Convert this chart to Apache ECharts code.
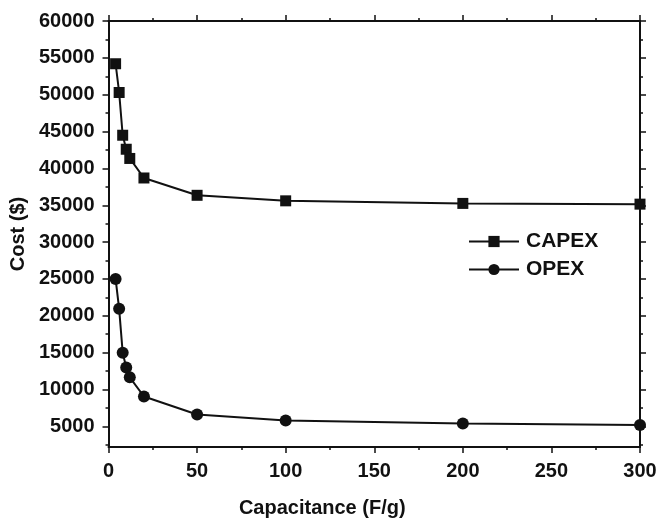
<!DOCTYPE html>
<html>
<head>
<meta charset="utf-8">
<script src="https://cdn.jsdelivr.net/npm/echarts@6/dist/echarts.min.js"></script>
<style>
  html, body { margin: 0; padding: 0; background: #fff; }
  #main { width: 660px; height: 523px; }
</style>
</head>
<body>
<div id="main"></div>
<script>
// capacitance values (F/g)
const capacitance = [4, 6, 8, 10, 12, 20, 50, 100, 200, 300];
// cost values ($)
const capex = [54200, 50300, 44500, 42600, 41350, 38700, 36350, 35600, 35250, 35150];
const opex = [25000, 20950, 15000, 13000, 11650, 9050, 6600, 5800, 5400, 5200];
// tick values
const xMajor = [0, 50, 100, 150, 200, 250, 300];
const xMinor = [25, 75, 125, 175, 225, 275];
const yMajor = [5000, 10000, 15000, 20000, 25000, 30000, 35000, 40000, 45000, 50000, 55000, 60000];
const yMinor = [2500, 7500, 12500, 17500, 22500, 27500, 32500, 37500, 42500, 47500, 52500, 57500];

const ink = '#111';
const font = 'Liberation Sans, Arial, sans-serif';
const labelStyle = { color: ink, fontSize: 20, fontWeight: 'bold', fontFamily: font };

function xAx(pos, ticks, len, showLabel, showLine) {
  return {
    type: 'value',
    position: pos,
    min: 0,
    max: 300,
    axisLine: { show: showLine, onZero: false, lineStyle: { color: ink, width: 2 } },
    axisTick: { show: true, inside: false, length: len, customValues: ticks, lineStyle: { color: ink, width: 1.5 } },
    axisLabel: Object.assign({ show: showLabel, customValues: xMajor, margin: 14, formatter: v => String(v) }, labelStyle),
    splitLine: { show: false }
  };
}

function yAx(pos, ticks, len, showLabel, showLine) {
  return {
    type: 'value',
    position: pos,
    min: 2200,
    max: 60000,
    axisLine: { show: showLine, onZero: false, lineStyle: { color: ink, width: 2 } },
    axisTick: { show: true, inside: false, length: len, customValues: ticks, lineStyle: { color: ink, width: 1.5 } },
    axisLabel: Object.assign({ show: showLabel, customValues: yMajor, margin: 14, formatter: v => String(v) }, labelStyle),
    splitLine: { show: false }
  };
}

const left = yAx('left', yMajor, 6, true, true);
left.name = 'Cost ($)';
left.nameLocation = 'middle';
left.nameGap = 78;
left.nameTextStyle = labelStyle;

const bottom = xAx('bottom', xMajor, 6, true, true);
bottom.name = 'Capacitance (F/g)';
bottom.nameLocation = 'middle';
bottom.nameGap = 51;
bottom.nameTextStyle = Object.assign({ padding: [0, 104, 0, 0] }, labelStyle);

const option = {
  animation: false,
  backgroundColor: '#fff',
  grid: { left: 108, right: 20, top: 21, bottom: 74 },
  legend: {
    orient: 'vertical',
    left: 468,
    top: 231,
    padding: 0,
    itemWidth: 50,
    itemHeight: 14,
    itemGap: 7,
    textStyle: { color: ink, fontSize: 21, fontWeight: 'bold', fontFamily: font, lineHeight: 20, padding: [0, 0, 0, 2] },
    data: ['CAPEX', 'OPEX']
  },
  xAxis: [
    bottom,
    xAx('top', xMajor, 6, false, true),
    xAx('bottom', xMinor, 3, false, false),
    xAx('top', xMinor, 3, false, false)
  ],
  yAxis: [
    left,
    yAx('right', yMajor, 6, false, true),
    yAx('left', yMinor, 3, false, false),
    yAx('right', yMinor, 3, false, false)
  ],
  series: [
    {
      name: 'CAPEX',
      type: 'line',
      data: capacitance.map((c, i) => [c, capex[i]]),
      symbol: 'rect',
      symbolSize: 11,
      lineStyle: { color: ink, width: 2 },
      itemStyle: { color: ink }
    },
    {
      name: 'OPEX',
      type: 'line',
      data: capacitance.map((c, i) => [c, opex[i]]),
      symbol: 'circle',
      symbolSize: 12,
      lineStyle: { color: ink, width: 2 },
      itemStyle: { color: ink }
    }
  ]
};

const myChart = echarts.init(document.getElementById('main'));
myChart.setOption(option);
</script>
</body>
</html>
